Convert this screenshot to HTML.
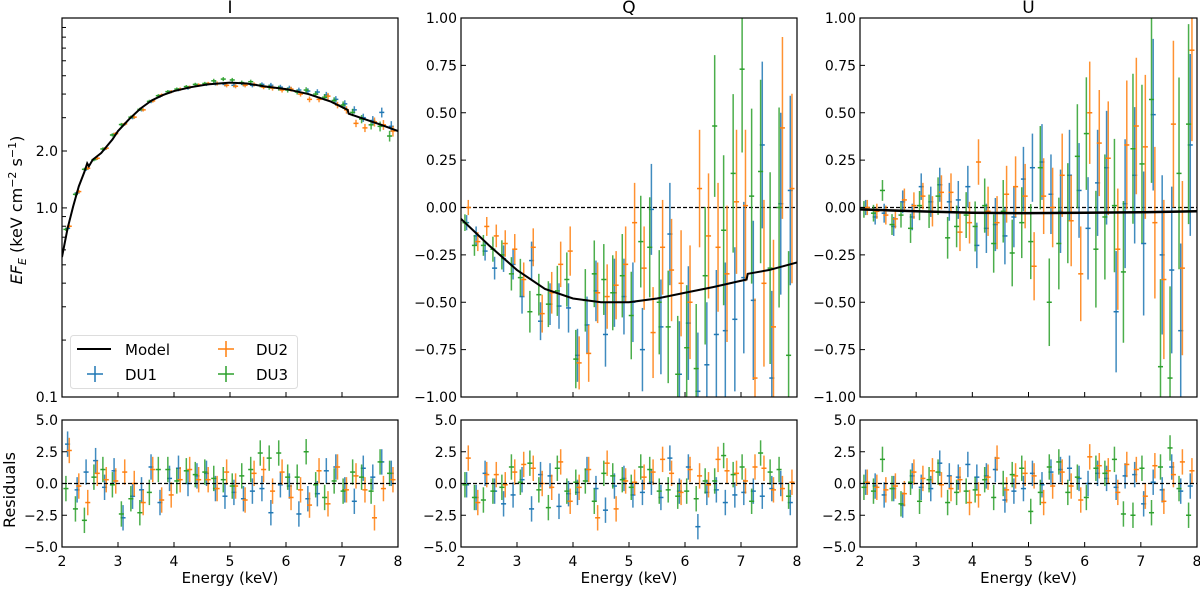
<!DOCTYPE html>
<html><head><meta charset="utf-8">
<style>
body{margin:0;background:#fff;}
svg{display:block;font-family:"DejaVu Sans","Liberation Sans",sans-serif;}
</style></head>
<body>
<svg id="fig" width="1200" height="589" viewBox="0 0 1200 589"></svg>
<script>
const energies=[2.10,2.27,2.43,2.60,2.76,2.93,3.09,3.26,3.42,3.59,3.75,3.92,4.08,4.25,4.41,4.58,4.74,4.91,5.07,5.24,5.40,5.57,5.73,5.90,6.06,6.23,6.39,6.56,6.72,6.89,7.05,7.22,7.38,7.55,7.71,7.88];
const modelIE=[2.0,2.1,2.2,2.3,2.4,2.45,2.48,2.55,2.7,2.9,3.0,3.2,3.4,3.6,3.8,4.0,4.3,4.6,5.0,5.3,5.6,6.0,6.4,6.8,7.1,7.12,7.4,7.7,8.0];
const modelIV=[0.55,0.78,1.02,1.3,1.55,1.72,1.66,1.8,1.95,2.3,2.55,2.95,3.35,3.7,3.95,4.15,4.35,4.5,4.6,4.55,4.4,4.25,4.0,3.65,3.3,3.15,2.95,2.75,2.55];
const iDU1=[0.78,1.2,1.6,1.82,2.05,2.45,2.75,3.0,3.3,3.65,3.9,4.1,4.22,4.3,4.45,4.5,4.55,4.5,4.45,4.5,4.45,4.5,4.45,4.35,4.3,4.2,4.15,4.1,3.95,3.75,3.55,3.3,3.0,2.9,3.2,2.7];
const iDU2=[0.8,1.22,1.62,1.83,2.07,2.47,2.78,3.02,3.3,3.68,3.95,4.12,4.25,4.35,4.47,4.55,4.55,4.45,4.4,4.45,4.5,4.35,4.3,4.2,4.25,4.0,3.75,3.75,3.9,3.5,3.3,2.8,2.65,2.85,2.75,2.55];
const iDU3=[0.77,1.18,1.6,1.8,2.05,2.43,2.76,3.02,3.32,3.66,3.92,4.12,4.25,4.38,4.5,4.55,4.7,4.8,4.75,4.6,4.65,4.45,4.35,4.3,4.2,4.1,4.2,4.0,3.85,3.7,3.5,3.2,2.95,2.75,2.7,2.4];
const errI=[0.02,0.02,0.02,0.02,0.02,0.02,0.02,0.02,0.02,0.02,0.02,0.02,0.02,0.02,0.02,0.02,0.025,0.025,0.025,0.025,0.025,0.025,0.03,0.03,0.03,0.03,0.035,0.035,0.04,0.04,0.045,0.045,0.05,0.055,0.06,0.065];
const modelQE=[2.0,2.5,3.0,3.5,4.0,4.5,5.0,5.5,6.0,6.5,7.1,7.12,7.5,8.0];
const modelQV=[-0.06,-0.2,-0.33,-0.43,-0.48,-0.5,-0.5,-0.48,-0.45,-0.42,-0.38,-0.35,-0.33,-0.29];
const qDU1=[-0.08,-0.15,-0.23,-0.32,-0.27,-0.3,-0.47,-0.28,-0.6,-0.51,-0.52,-0.53,-0.78,-0.62,-0.44,-0.67,-0.45,-0.47,-0.5,-0.75,-0.01,-0.63,-0.14,-0.88,-0.61,-0.97,-0.83,-0.67,-0.65,-0.59,-0.37,-0.49,0.33,-0.9,0.02,0.09];
const qDU2=[0.0,-0.18,-0.1,-0.15,-0.19,-0.22,-0.38,-0.21,-0.56,-0.45,-0.3,-0.23,-0.82,-0.77,-0.45,-0.47,-0.41,-0.3,-0.08,-0.32,-0.66,-0.21,-0.33,-0.4,-0.5,0.1,-0.15,-0.21,-0.35,0.03,0.01,-0.9,-0.4,-0.63,0.42,0.1];
const qDU3=[-0.08,-0.2,-0.2,-0.22,-0.25,-0.35,-0.37,-0.55,-0.46,-0.51,-0.44,-0.38,-0.8,-0.49,-0.35,-0.38,-0.45,-0.36,-0.57,-0.18,-0.21,-0.5,-0.63,-0.88,-0.74,-0.85,-0.36,0.43,-0.12,0.18,0.73,0.06,0.19,-0.32,0.0,-0.78];
const errQ=[0.04,0.05,0.05,0.06,0.07,0.08,0.09,0.1,0.1,0.11,0.12,0.13,0.14,0.15,0.16,0.17,0.18,0.2,0.21,0.22,0.24,0.25,0.27,0.28,0.3,0.31,0.33,0.34,0.36,0.38,0.4,0.42,0.44,0.46,0.48,0.5];
const modelUE=[2.0,3.0,4.0,5.0,6.0,7.0,8.0];
const modelUV=[-0.01,-0.02,-0.028,-0.03,-0.028,-0.025,-0.02];
const uDU1=[0.0,-0.05,-0.03,-0.1,0.03,-0.05,0.11,0.03,0.12,0.03,0.04,0.11,-0.2,-0.11,-0.09,-0.15,-0.05,0.15,0.21,0.24,0.07,-0.02,0.17,0.09,-0.11,0.13,0.21,-0.55,0.02,0.17,-0.19,0.49,-0.25,-0.33,-0.65,0.33];
const uDU2=[0.0,-0.02,-0.04,-0.06,0.04,0.01,0.06,-0.02,0.08,0.08,-0.13,-0.08,0.24,-0.02,-0.08,0.07,0.11,0.06,-0.31,0.06,0.0,0.17,-0.07,-0.35,0.5,0.34,0.26,-0.22,0.33,0.43,0.32,-0.08,-0.38,0.44,-0.32,0.83];
const uDU3=[-0.01,-0.03,0.09,-0.09,-0.04,-0.11,0.01,-0.02,0.06,-0.16,-0.1,-0.04,-0.1,0.01,-0.19,-0.02,-0.24,-0.08,-0.18,0.21,-0.5,-0.19,-0.03,0.27,0.39,-0.22,-0.05,0.01,-0.34,0.31,0.23,0.57,-0.84,-0.9,0.18,0.44];
const errU=[0.04,0.04,0.05,0.05,0.06,0.07,0.07,0.08,0.09,0.1,0.1,0.11,0.12,0.13,0.14,0.15,0.16,0.17,0.18,0.2,0.21,0.22,0.24,0.25,0.27,0.28,0.3,0.32,0.34,0.36,0.38,0.4,0.42,0.44,0.46,0.48];
const rI1=[3.1,-0.5,0.9,1.8,-0.3,1.0,-2.7,-1.0,-0.5,1.3,-1.5,0.4,1.2,0.0,0.6,0.8,-0.4,-1.0,-0.7,-1.2,-0.6,-0.4,-2.3,-0.1,-0.2,-2.4,-1.2,-0.8,1.0,1.3,-0.5,-1.4,1.2,0.5,1.7,0.8];
const rI2=[2.6,-0.2,-1.5,0.8,0.3,0.2,0.9,0.0,-1.5,1.1,-1.3,-0.9,0.3,1.1,0.3,0.3,-0.4,0.9,-0.2,-1.3,0.8,1.1,-0.6,0.9,-1.1,-0.5,-1.7,1.0,-1.6,1.3,-0.5,0.6,-0.5,-2.7,-0.4,0.3];
const rI3=[-0.4,-2.0,-2.9,0.5,1.1,-0.1,-2.4,-1.2,-2.3,-0.7,1.1,1.1,0.2,1.0,0.7,0.9,0.4,0.3,-0.2,0.6,1.1,2.4,2.0,2.4,0.5,0.5,2.5,-0.1,-1.1,0.2,-0.6,0.9,0.5,-0.6,1.7,0.8];
const rQ1=[-0.1,-1.1,0.8,-0.6,-1.6,-0.9,0.3,-2.0,0.7,0.6,-1.8,-0.8,-0.7,1.1,-0.4,-2.1,-0.2,0.4,-0.9,-0.7,0.1,-1.1,2.0,-0.6,1.3,-3.4,-0.7,-0.5,-1.5,-0.9,-0.7,-0.6,-1.0,-0.4,0.0,-1.5];
const rQ2=[2.0,-1.5,0.7,0.7,-0.1,0.9,1.5,1.2,0.0,-0.3,1.7,-1.4,-0.3,1.1,-2.7,1.6,-2.0,0.2,0.1,0.5,0.9,1.9,0.8,-0.7,1.1,0.6,-0.1,1.9,1.0,0.8,0.2,1.3,1.2,-0.5,-0.4,0.1];
const rQ3=[-0.1,-1.1,-1.3,-0.6,-0.3,1.3,0.1,1.6,-0.5,-1.9,1.2,-0.6,0.1,0.2,-1.4,0.8,0.6,0.3,-0.3,1.3,1.1,-0.6,-0.5,-1.0,-0.6,-1.2,0.2,0.2,2.2,0.7,1.3,-1.4,2.4,0.9,1.1,-1.0];
const rU1=[0.1,-0.2,-0.9,-0.4,-1.7,0.6,-0.3,-0.4,1.6,0.6,0.5,1.5,0.5,0.6,1.1,-1.3,-0.6,-0.4,0.8,-0.1,0.9,1.1,1.2,0.4,0.0,0.8,0.4,-0.3,0.6,0.7,-1.6,0.1,-0.5,1.3,-0.6,-0.2];
const rU2=[0.1,-0.3,-0.5,-0.2,-0.8,0.9,0.4,1.0,-0.1,-0.4,0.3,-1.5,-0.9,0.5,2.0,-0.5,0.6,0.8,0.6,-1.5,-0.2,0.9,-0.2,-1.3,2.1,1.4,1.0,-0.7,1.5,1.1,-1.0,1.4,-1.4,0.7,1.7,1.0];
const rU3=[-0.3,-0.6,1.9,-0.4,-1.6,0.1,-1.4,0.3,0.9,-1.5,-0.7,-0.6,-0.5,0.3,-1.1,0.0,0.7,1.2,-2.2,-0.7,1.3,1.7,-0.7,0.5,-1.1,1.2,0.8,1.9,-2.4,-2.5,1.2,-2.3,1.3,2.8,-0.4,-2.5];
const xTicks=[2,3,4,5,6,7,8];
const polTicks=[1.0,0.75,0.5,0.25,0,-0.25,-0.5,-0.75,-1.0];
const resTicks=[5,2.5,0,-2.5,-5];

const NS="http://www.w3.org/2000/svg";
const svg=document.getElementById('fig');
const C=['#1f77b4','#ff7f0e','#2ca02c'];
function el(tag,attrs,parent){const e=document.createElementNS(NS,tag);for(const k in attrs)e.setAttribute(k,attrs[k]);(parent||svg).appendChild(e);return e;}
function txt(s,x,y,size,anchor,parent,extra){const t=el('text',Object.assign({x:x,y:y,'font-size':size,'text-anchor':anchor||'middle',fill:'#000'},extra||{}),parent);t.textContent=s;return t;}
function fmt(v,d){let s=v.toFixed(d);if(v<0)s='\u2212'+(-v).toFixed(d);return s;}

const cols=[{x0:62,x1:398},{x0:461,x1:797},{x0:860,x1:1197}];
const TOP={y0:18,y1:397}, BOT={y0:420,y1:547};

function xs(c){return e=>c.x0+(e-2)/6*(c.x1-c.x0);}
function linY(a,lo,hi){return v=>a.y1-(v-lo)/(hi-lo)*(a.y1-a.y0);}
function logY(a,lo,hi){return v=>a.y1-(Math.log10(v)-Math.log10(lo))/(Math.log10(hi)-Math.log10(lo))*(a.y1-a.y0);}

function clip(id,c,a){const cp=el('clipPath',{id:id});el('rect',{x:c.x0,y:a.y0,width:c.x1-c.x0,height:a.y1-a.y0},cp);}
function frame(g,c,a,name){const r=el('rect',{x:c.x0,y:a.y0,width:c.x1-c.x0,height:a.y1-a.y0,fill:'none',stroke:'#000','stroke-width':1.2},g);}
function errSeries(g,X,Y,E,V,lo,hi,color,name,dx){
  const s=el('g',{stroke:color,'stroke-width':1.5,'stroke-opacity':0.85},g);
  
  
  E.forEach((e,i)=>{
    const cx=X(e+dx);
    el('line',{x1:cx,x2:cx,y1:Y(hi[i]),y2:Y(lo[i])},s);
    el('line',{x1:X(e+dx-0.045),x2:X(e+dx+0.045),y1:Y(V[i]),y2:Y(V[i]),'stroke-opacity':1},s);
  });
}
function modelLine(g,X,Y,E,V,name,w){
  const p=el('polyline',{points:E.map((e,i)=>X(e)+','+Y(V[i])).join(' '),fill:'none',stroke:'#000','stroke-width':w||2},g);
  
  
}
function xAxis(g,c,a,X,withLabels){
  xTicks.forEach(t=>{
    el('line',{x1:X(t),x2:X(t),y1:a.y1,y2:a.y1-5,stroke:'#000','stroke-width':1},g);
    if(withLabels){const tl=txt(String(t),X(t),a.y1+19,14,'middle',g);}
  });
}
function yTicksLin(g,c,a,Y,ticks,d){
  ticks.forEach(t=>{
    el('line',{x1:c.x0,x2:c.x0+5,y1:Y(t),y2:Y(t),stroke:'#000','stroke-width':1},g);
    const tl=txt(fmt(t,d),c.x0-4,Y(t)+5,14,'end',g);
    
    
  });
}
function zeroLine(g,c,Y){el('line',{x1:c.x0,x2:c.x1,y1:Y(0),y2:Y(0),stroke:'#000','stroke-width':1.2,'stroke-dasharray':'4,2'},g);}

const topSets=[
  {name:'I',d:[iDU1,iDU2,iDU3],err:errI,mE:modelIE,mV:modelIV,log:true},
  {name:'Q',d:[qDU1,qDU2,qDU3],err:errQ,mE:modelQE,mV:modelQV},
  {name:'U',d:[uDU1,uDU2,uDU3],err:errU,mE:modelUE,mV:modelUV}
];
const resSets=[[rI1,rI2,rI3],[rQ1,rQ2,rQ3],[rU1,rU2,rU3]];
const dxs=[0,0.03,-0.03];
const dets=['du1','du2','du3'];

cols.forEach((c,k)=>{
  const set=topSets[k];
  const X=xs(c);
  const gT=el('g',{});
  
  
  clip('cT'+k,c,TOP);
  const Y=set.log?logY(TOP,0.1,10.1):linY(TOP,-1,1);
  const inner=el('g',{'clip-path':'url(#cT'+k+')'},gT);
  if(!set.log) zeroLine(inner,c,Y);
  set.d.forEach((arr,j)=>{
    let lo,hi;
    if(set.log){lo=arr.map((v,i)=>v*(1-set.err[i]));hi=arr.map((v,i)=>v*(1+set.err[i]));}
    else{const ej=j===2?1.1:1;lo=arr.map((v,i)=>v-set.err[i]*ej);hi=arr.map((v,i)=>v+set.err[i]*ej);}
    errSeries(inner,X,Y,energies,arr,lo,hi,C[j],set.name.toLowerCase()+'-'+dets[j]+'-series',dxs[j]);
  });
  modelLine(inner,X,Y,set.mE,set.mV,set.name.toLowerCase()+'-model-line',set.name==='U'?2.5:2);
  frame(gT,c,TOP,'panel-'+set.name.toLowerCase()+'-frame');
  xAxis(gT,c,TOP,X,false);
  if(set.log){
    [0.2,0.3,0.4,0.5,0.6,0.7,0.8,0.9,3,4,5,6,7,8,9].forEach(t=>el('line',{x1:c.x0,x2:c.x0+4,y1:Y(t),y2:Y(t),stroke:'#000','stroke-width':1},gT));
    [[0.1,'0.1'],[1,'1.0'],[2,'2.0']].forEach(([t,s])=>{
      el('line',{x1:c.x0,x2:c.x0+5,y1:Y(t),y2:Y(t),stroke:'#000','stroke-width':1},gT);
      const tl=txt(s,c.x0-4,Y(t)+5,14,'end',gT);
      
      
    });
  } else yTicksLin(gT,c,TOP,Y,polTicks,2);
  const tt=txt(set.name,(c.x0+c.x1)/2,13,17,'middle',gT);
  
  

  const gB=el('g',{});
  
  
  clip('cB'+k,c,BOT);
  const YR=linY(BOT,-5,5);
  const innerB=el('g',{'clip-path':'url(#cB'+k+')'},gB);
  resSets[k].forEach((arr,j)=>{
    errSeries(innerB,X,YR,energies,arr,arr.map(v=>v-1),arr.map(v=>v+1),C[j],'residual-'+set.name.toLowerCase()+'-'+dets[j],dxs[j]);
  });
  zeroLine(innerB,c,YR);
  frame(gB,c,BOT,'residuals-frame-'+set.name.toLowerCase());
  xAxis(gB,c,BOT,X,true);
  yTicksLin(gB,c,BOT,YR,resTicks,1);
  const xl=txt('Energy (keV)',(c.x0+c.x1)/2,583,15,'middle',gB);
  
  
});

const yl=el('text',{x:0,y:0,'font-size':16,'text-anchor':'middle',transform:'translate(22,210) rotate(-90)'});


yl.innerHTML='<tspan font-style="italic">EF</tspan><tspan font-style="italic" font-size="11" dy="4">E</tspan><tspan dy="-4"> (keV cm</tspan><tspan font-size="11" dy="-6">\u22122</tspan><tspan dy="6"> s</tspan><tspan font-size="11" dy="-6">\u22121</tspan><tspan dy="6">)</tspan>';
const rl=txt('Residuals',0,0,16,'middle',svg,{transform:'translate(15,490) rotate(-90)'});



const lg=el('g',{});


el('rect',{x:70.5,y:335.5,width:227,height:53,rx:3,fill:'#fff','fill-opacity':0.8,stroke:'#ddd'},lg);
const e1=el('g',{},lg);


el('line',{x1:77,x2:111,y1:349,y2:349,stroke:'#000','stroke-width':2},e1);
txt('Model',125,355,15,'start',e1);
[[1,'DU1',95,374,125],[2,'DU2',226,349,256],[3,'DU3',226,374,256]].forEach(([j,l,sx,sy,tx])=>{
  const g=el('g',{stroke:C[j-1]},lg);
  
  
  el('line',{x1:sx,x2:sx,y1:sy-8,y2:sy+8,'stroke-width':1.5},g);
  el('line',{x1:sx-8,x2:sx+8,y1:sy,y2:sy,'stroke-width':1.5},g);
  txt(l,tx,sy+6,15,'start',g,{stroke:'none'});
});
</script>
</body></html>
